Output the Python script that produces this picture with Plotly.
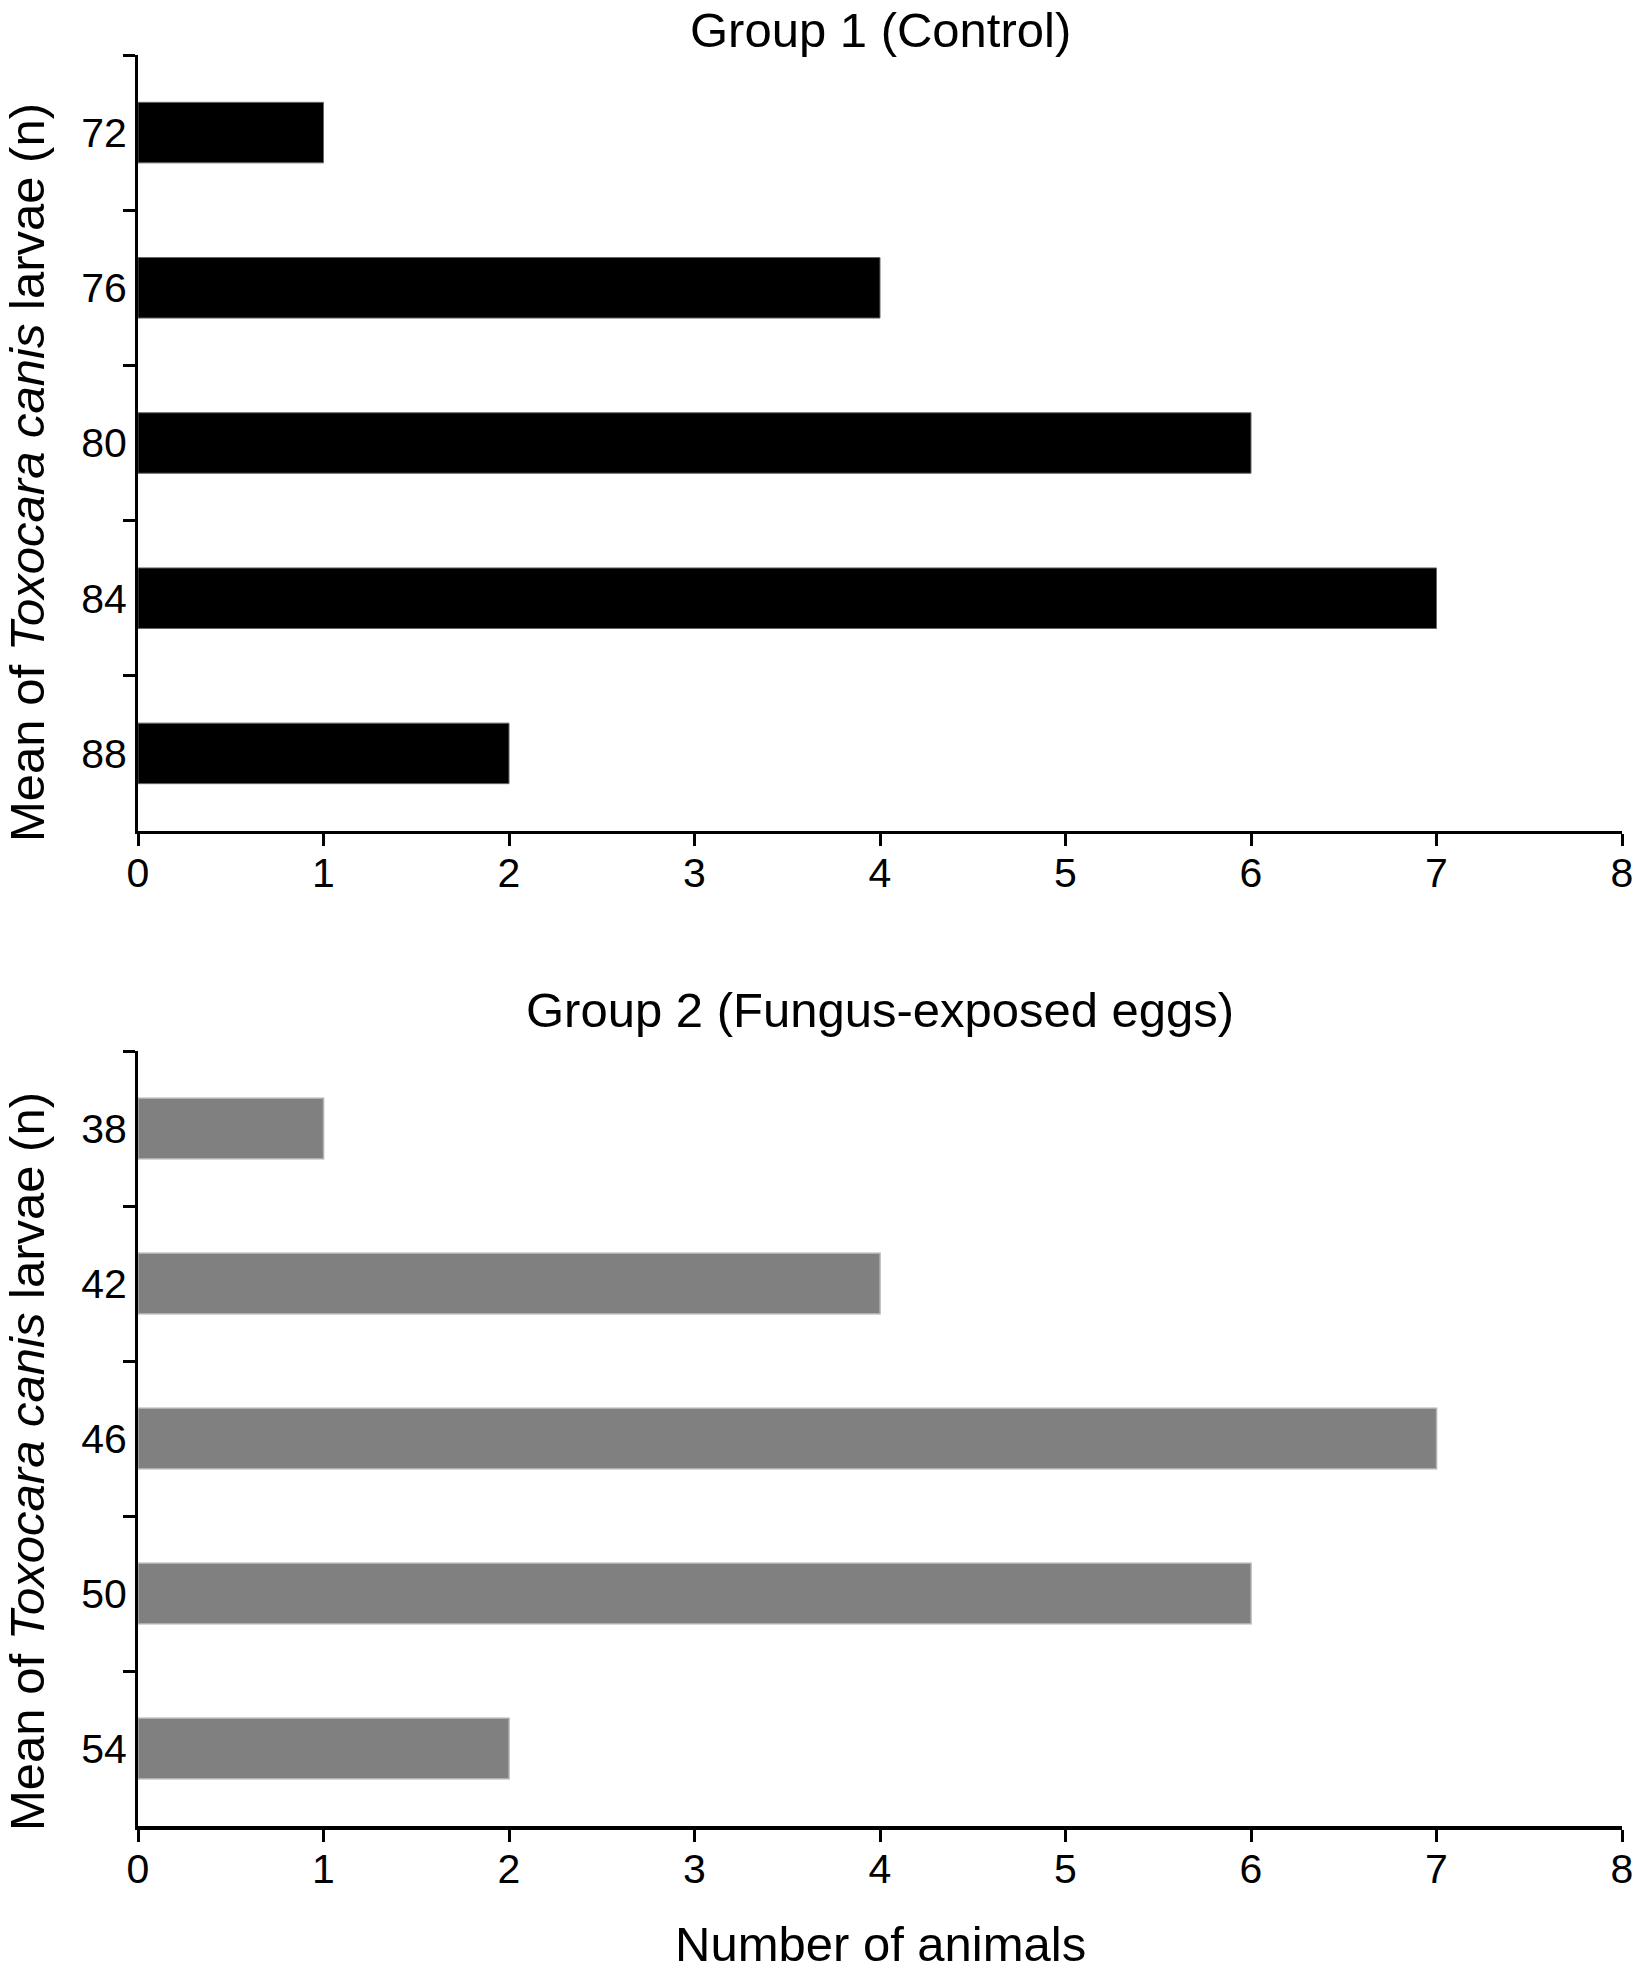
import plotly.graph_objects as go

# ---- data ----
g1_labels = ["72", "76", "80", "84", "88"]
g1_counts = [1, 4, 6, 7, 2]
g2_labels = ["38", "42", "46", "50", "54"]
g2_counts = [1, 4, 7, 6, 2]
x_ticks = [0, 1, 2, 3, 4, 5, 6, 7, 8]

title1 = "Group 1 (Control)"
title2 = "Group 2 (Fungus-exposed eggs)"
x_title = "Number of animals"
y_title = "Mean of <i>Toxocara canis</i> larvae (n)"

W, H = 1633, 1975
FONT = "Liberation Sans, Arial, Helvetica, sans-serif"
TICK = 41
TTL = 49

fig = go.Figure()
fig.add_trace(go.Bar(
    x=g1_counts, y=g1_labels, orientation="h", width=0.39,
    marker=dict(color="#000000", line=dict(color="#666666", width=1)),
    xaxis="x", yaxis="y", showlegend=False,
))
fig.add_trace(go.Bar(
    x=g2_counts, y=g2_labels, orientation="h", width=0.39,
    marker=dict(color="#808080", line=dict(color="#b0b0b0", width=1.5)),
    xaxis="x2", yaxis="y2", showlegend=False,
))

xdom = [138 / W, 1622 / W]
ydom1 = [1 - 831 / H, 1 - 55 / H]
ydom2 = [1 - 1826 / H, 1 - 1051 / H]

def xax(dom_anchor, lw):
    return dict(
        domain=xdom, anchor=dom_anchor, range=[0, 8], tickvals=x_ticks,
        ticks="outside", ticklen=12, tickwidth=3, tickcolor="black",
        showline=True, linecolor="black", linewidth=lw,
        showgrid=False, zeroline=False, automargin=False,
        ticklabelstandoff=-8, ticklabeloverflow="allow",
        tickfont=dict(size=TICK, color="black", family=FONT), fixedrange=True,
    )

def yax(dom, anchor, cats):
    return dict(
        domain=dom, anchor=anchor, type="category", categoryorder="array",
        categoryarray=cats, range=[4.5, -0.5], tickson="boundaries",
        ticks="outside", ticklen=12, tickwidth=3, tickcolor="black",
        showline=True, linecolor="black", linewidth=3,
        showgrid=False, zeroline=False, automargin=False,
        ticklabeloverflow="allow",
        tickfont=dict(size=TICK, color="black", family=FONT), fixedrange=True,
    )

fig.update_layout(
    width=W, height=H,
    margin=dict(l=0, r=0, t=0, b=0),
    paper_bgcolor="white", plot_bgcolor="white",
    font=dict(family=FONT, color="black"),
    xaxis=xax("y", 3),
    yaxis=yax(ydom1, "x", g1_labels),
    xaxis2=xax("y2", 4),
    yaxis2=yax(ydom2, "x2", g2_labels),
)

cx = (xdom[0] + xdom[1]) / 2
ann = [
    dict(text=title1, x=cx, y=1 - 30 / H),
    dict(text=title2, x=cx, y=1 - 1010 / H),
    dict(text=x_title, x=cx, y=1 - 1944 / H),
    dict(text=y_title, x=27 / W, y=1 - 473 / H, textangle=-90),
    dict(text=y_title, x=27 / W, y=1 - 1462 / H, textangle=-90),
]
for a in ann:
    fig.add_annotation(
        xref="paper", yref="paper", showarrow=False,
        xanchor="center", yanchor="middle",
        font=dict(size=TTL, color="black", family=FONT), **a,
    )

fig.write_html(
    "out.html",
    config={"displayModeBar": False},
    post_script="document.body.style.margin='0';document.body.style.overflow='hidden';",
)
